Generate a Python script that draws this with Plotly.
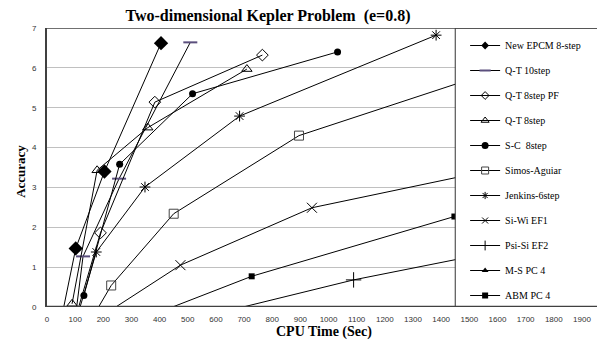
import plotly.graph_objects as go

# ---- data (CPU time in sec, accuracy) ----
epcm_x = [45, 102, 204, 405]
epcm_y = [-0.5, 1.47, 3.40, 6.62]
qt10_x = [100, 128, 256, 509]
qt10_y = [-0.3, 1.27, 3.22, 6.64]
qtpf_x = [100, 190, 383, 765]
qtpf_y = [-0.3, 1.86, 5.14, 6.32]
qt8_x = [89, 178, 358, 710]
qt8_y = [0.08, 3.43, 4.50, 5.97]
sc_x = [131, 258, 517, 1032]
sc_y = [0.29, 3.58, 5.35, 6.40]
simos_x = [150, 228, 450, 895, 1790]
simos_y = [-0.4, 0.54, 2.34, 4.30, 6.38]
jenk_x = [105, 175, 348, 684, 1382]
jenk_y = [-0.3, 1.38, 3.01, 4.79, 6.82]
siwi_x = [135, 474, 941, 1880]
siwi_y = [-0.5, 1.05, 2.49, 3.88]
psi_x = [350, 1089, 1900]
psi_y = [-0.6, 0.68, 1.82]
ms_x = [1600, 2600]
ms_y = [1.2, 2.6]
abm_x = [300, 727, 1447, 2200]
abm_y = [-0.4, 0.77, 2.27, 3.6]

x_ticks = list(range(0, 2000, 100))
y_ticks = list(range(0, 8))

series = [
    ("New EPCM 8-step", epcm_x, epcm_y, dict(symbol="diamond", size=11, color="black"), 6),
    ("Q-T 10step", qt10_x, qt10_y, dict(symbol="line-ew-open", size=10, color="#5b4f7d", line=dict(width=2, color="#5b4f7d")), 8),
    ("Q-T 8step PF", qtpf_x, qtpf_y, dict(symbol="diamond-open", size=9, color="black", line=dict(width=1)), 6),
    ("Q-T 8step", qt8_x, qt8_y, dict(symbol="triangle-up-open", size=9, color="black", line=dict(width=1)), 7),
    ("S-C  8step", sc_x, sc_y, dict(symbol="circle", size=7, color="black"), 7),
    ("Simos-Aguiar", simos_x, simos_y, dict(symbol="square-open", size=9, color="#444", line=dict(width=1)), 7),
    ("Jenkins-6step", jenk_x, jenk_y, dict(symbol="asterisk-open", size=9, color="black", line=dict(width=1)), 6),
    ("Si-Wi EF1", siwi_x, siwi_y, dict(symbol="x-thin-open", size=10, color="black", line=dict(width=1)), 6),
    ("Psi-Si EF2", psi_x, psi_y, dict(symbol="cross-thin-open", size=11, color="black", line=dict(width=1)), 7),
    ("M-S PC 4", ms_x, ms_y, dict(symbol="triangle-up", size=7, color="black"), 6),
    ("ABM PC 4", abm_x, abm_y, dict(symbol="square", size=6, color="black"), 6),
]

fig = go.Figure()
for i, (name, xs, ys, mk, lsize) in enumerate(series):
    fig.add_trace(go.Scatter(x=xs, y=ys, mode="lines+markers", name=name,
                             showlegend=False,
                             line=dict(color="black", width=1), marker=mk))
# legend entries with smaller symbols (as in the original legend)
for i, (name, xs, ys, mk, lsize) in enumerate(series):
    lm = dict(mk)
    lm["size"] = lsize
    fig.add_trace(go.Scatter(x=[None], y=[None], mode="lines+markers", name=name,
                             legendgroup=f"g{i}", showlegend=True,
                             line=dict(color="black", width=1), marker=lm))

XMAX = 1953.5
fig.update_layout(
    width=597, height=340,
    margin=dict(l=46.5, r=0, t=28, b=33),
    paper_bgcolor="white", plot_bgcolor="white",
    title=dict(text="<b>Two-dimensional Kepler Problem  (e=0.8)</b>",
               x=268 / 597, xref="container", xanchor="center",
               y=1 - 15 / 340, yref="container", yanchor="middle",
               font=dict(family="Liberation Serif, Times New Roman, serif", size=16, color="black")),
    xaxis=dict(range=[0, XMAX], tickvals=x_ticks, showgrid=False, zeroline=False,
               showline=False, ticks="", ticklabelstandoff=6,
               tickfont=dict(family="Liberation Sans, Arial, sans-serif", size=8, color="#333")),
    yaxis=dict(range=[0, 7], tickvals=y_ticks, showgrid=True, gridcolor="#c0c0c0", gridwidth=1,
               zeroline=False, showline=True, linecolor="#404040", linewidth=2, ticks="",
               ticklabelstandoff=7,
               tickfont=dict(family="Liberation Sans, Arial, sans-serif", size=8, color="#333")),
    legend=dict(x=(465 - 46.5) / (597 - 46.5), xanchor="left", y=1 - 3 / 279, yanchor="top",
                bgcolor="rgba(0,0,0,0)", borderwidth=0, itemwidth=30, tracegroupgap=6,
                font=dict(family="Liberation Serif, Times New Roman, serif", size=10, color="black")),
)

# legend box covering the right part of the plot area (as in the original)
fig.add_shape(type="rect", xref="x", yref="y", x0=1450, x1=XMAX + 50, y0=0, y1=7,
              fillcolor="white", line=dict(color="#333", width=1), layer="above")
# x axis line and top border
fig.add_shape(type="line", xref="paper", yref="y", x0=0, x1=1, y0=0, y1=0,
              line=dict(color="#404040", width=2.5), layer="above")
fig.add_shape(type="line", xref="paper", yref="y", x0=0, x1=1, y0=7, y1=7,
              line=dict(color="#404040", width=1.5), layer="above")

fig.add_annotation(text="<b>Accuracy</b>", xref="paper", yref="paper",
                   x=(20 - 46.5) / 550.5, y=(306.7 - 171) / 279, textangle=-90,
                   showarrow=False, xanchor="center", yanchor="middle",
                   font=dict(family="Liberation Serif, Times New Roman, serif", size=13, color="black"))
fig.add_annotation(text="<b>CPU Time (Sec)</b>", xref="paper", yref="paper",
                   x=(324 - 46.5) / 550.5, y=(306.7 - 332) / 279,
                   showarrow=False, xanchor="center", yanchor="middle",
                   font=dict(family="Liberation Serif, Times New Roman, serif", size=14, color="black"))

fig.write_html("out.html")
